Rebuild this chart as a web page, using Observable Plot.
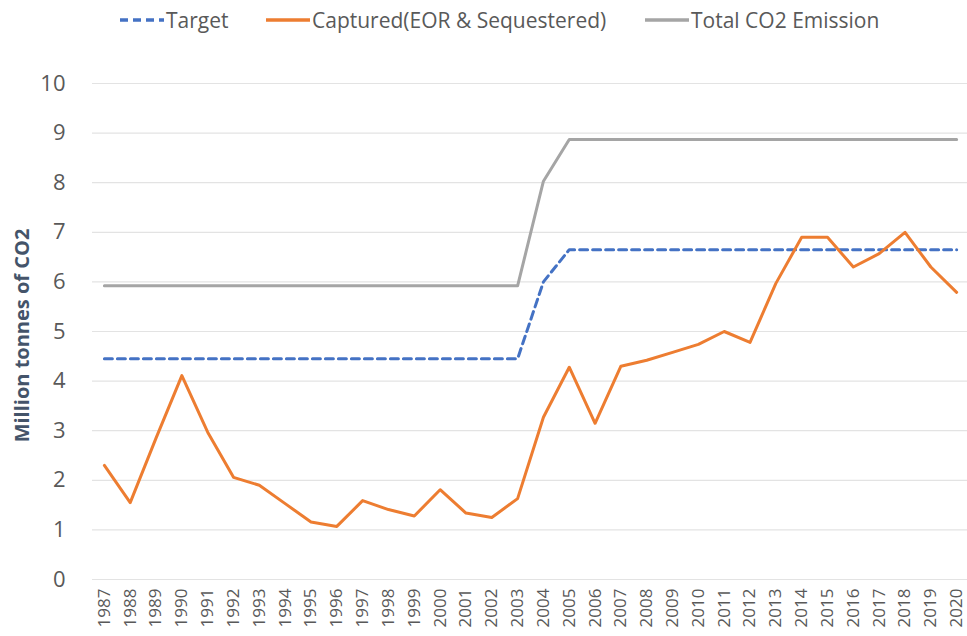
<!DOCTYPE html>
<html>
<head>
<meta charset="utf-8">
<script src="https://cdn.jsdelivr.net/npm/d3@7"></script>
<script src="https://cdn.jsdelivr.net/npm/@observablehq/plot@0.6"></script>
<style>
  html, body { margin: 0; padding: 0; background: #fff; }
  body { width: 967px; height: 636px; overflow: hidden; font-family: "Open Sans", sans-serif; }
  #legend { position: relative; height: 45px; width: 967px; }
  .item { position: absolute; top: 6px; display: flex; align-items: center; font-size: 21px; color: #595959; white-space: nowrap; }
  .item svg { display: block; margin-right: 2px; }
</style>
</head>
<body>
<div id="legend"></div>
<div id="chart"></div>
<script>
const years = [1987,1988,1989,1990,1991,1992,1993,1994,1995,1996,1997,1998,1999,2000,2001,2002,2003,2004,2005,2006,2007,2008,2009,2010,2011,2012,2013,2014,2015,2016,2017,2018,2019,2020];
const target = [4.45,4.45,4.45,4.45,4.45,4.45,4.45,4.45,4.45,4.45,4.45,4.45,4.45,4.45,4.45,4.45,4.45,6.0,6.65,6.65,6.65,6.65,6.65,6.65,6.65,6.65,6.65,6.65,6.65,6.65,6.65,6.65,6.65,6.65];
const captured = [2.3,1.55,2.85,4.11,2.97,2.06,1.9,1.53,1.16,1.07,1.59,1.41,1.28,1.81,1.34,1.25,1.63,3.27,4.28,3.15,4.3,4.42,4.58,4.74,5.0,4.78,5.97,6.9,6.9,6.3,6.57,7.0,6.3,5.79];
const total = [5.92,5.92,5.92,5.92,5.92,5.92,5.92,5.92,5.92,5.92,5.92,5.92,5.92,5.92,5.92,5.92,5.92,8.03,8.87,8.87,8.87,8.87,8.87,8.87,8.87,8.87,8.87,8.87,8.87,8.87,8.87,8.87,8.87,8.87];
const seriesNames = ["Target", "Captured(EOR & Sequestered)", "Total CO2 Emission"];
const yTicks = [0,1,2,3,4,5,6,7,8,9,10];
const yLabel = "Million tonnes of CO2";

const colors = {"Target": "#4472c4", "Captured(EOR & Sequestered)": "#ed7d31", "Total CO2 Emission": "#a5a5a5"};
const dashes = {"Target": "8 5", "Captured(EOR & Sequestered)": null, "Total CO2 Emission": null};

// Legend
const legendLeft = {"Target": 120, "Captured(EOR & Sequestered)": 266, "Total CO2 Emission": 645};
const legend = document.getElementById("legend");
for (const name of seriesNames) {
  const div = document.createElement("div");
  div.className = "item";
  div.style.left = legendLeft[name] + "px";
  const dash = dashes[name] ? ` stroke-dasharray="8 5"` : "";
  div.innerHTML = `<svg width="44" height="10"><line x1="0" y1="5" x2="44" y2="5" stroke="${colors[name]}" stroke-width="3.5"${dash}/></svg><span>${name}</span>`;
  legend.appendChild(div);
}

const rows = (vals) => years.map((y, i) => ({year: y, value: vals[i]}));

const chart = Plot.plot({
  width: 967,
  height: 591,
  marginTop: 38,
  marginBottom: 57,
  marginLeft: 92,
  marginRight: 0,
  x: {domain: [1986.54, 2020.42]},
  y: {domain: [0, 10]},
  style: {fontFamily: "Open Sans, sans-serif", background: "#fff"},
  marks: [
    Plot.ruleY(yTicks, {stroke: "#e3e3e3", strokeWidth: 1.2}),
    Plot.axisY({ticks: yTicks, tickSize: 0, tickPadding: 27, fontSize: 22, fill: "#595959", label: null}),
    Plot.axisX({ticks: years, tickFormat: d => String(d), tickRotate: -90, tickSize: 0, tickPadding: 9, fontSize: 17, fill: "#595959", label: null}),
    Plot.text([yLabel], {frameAnchor: "left", textAnchor: "middle", rotate: -90, dx: -70, dy: 4, fontWeight: "bold", fontSize: 20, fill: "#44546a"}),
    Plot.line(rows(total), {x: "year", y: "value", stroke: colors["Total CO2 Emission"], strokeWidth: 3}),
    Plot.line(rows(target), {x: "year", y: "value", stroke: colors["Target"], strokeWidth: 3, strokeDasharray: "8 5"}),
    Plot.line(rows(captured), {x: "year", y: "value", stroke: colors["Captured(EOR & Sequestered)"], strokeWidth: 3})
  ]
});
document.getElementById("chart").appendChild(chart);
</script>
</body>
</html>
